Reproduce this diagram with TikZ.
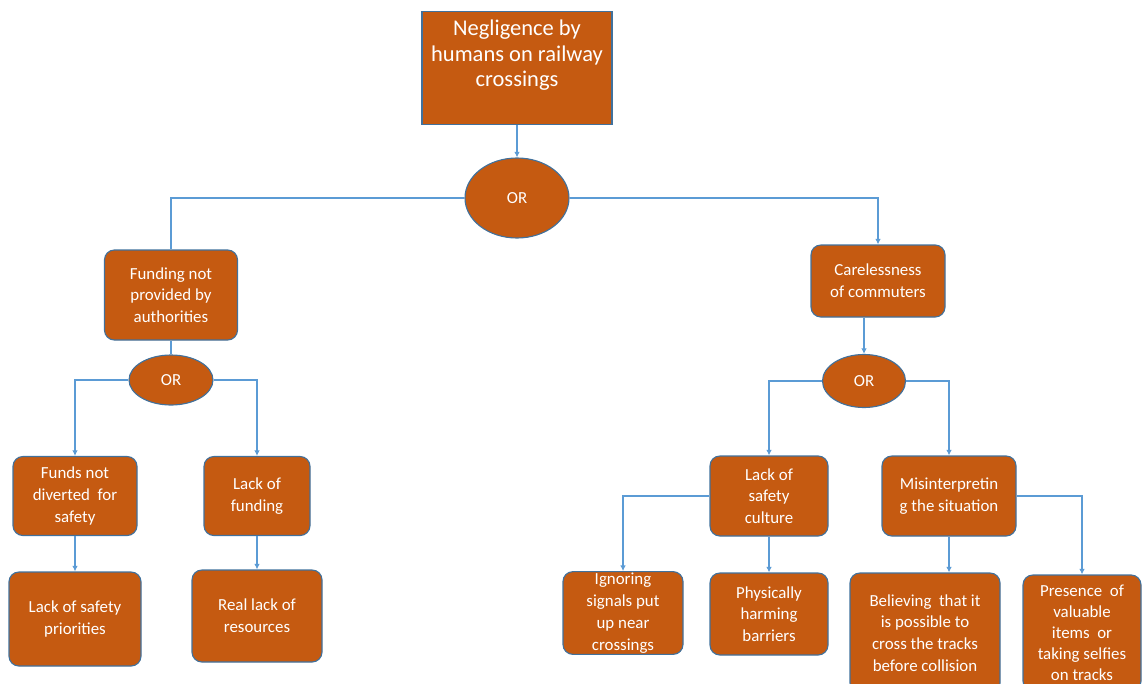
\documentclass[tikz,border=0pt]{standalone}
\usepackage{fontspec}
\setmainfont{Carlito}
\usetikzlibrary{shapes.geometric}
\usetikzlibrary{arrows.meta}
\definecolor{rust}{RGB}{197,90,17}
\definecolor{slateedge}{RGB}{65,113,156}
\definecolor{wire}{RGB}{91,155,213}

\begin{document}
\begin{tikzpicture}[
    x=0.025cm, y=-0.025cm,
    >={Latex[length=4pt,width=4pt]},
    % node styles
    box/.style = {
      draw=slateedge,
      line width=0.8pt,
      fill=rust,
      rounded corners=7pt,
      align=center,
      inner sep=1pt,
      font=\fontsize{12}{15.5}\selectfont,
      text=white
    },
    topbox/.style = {
      box,
      rounded corners=0pt,
      font=\fontsize{16}{18}\selectfont
    },
    gate/.style = {
      ellipse,
      draw=slateedge,
      line width=0.8pt,
      fill=rust,
      inner sep=0pt,
      font=\fontsize{12}{14}\selectfont,
      text=white
    },
    dims/.style 2 args = {minimum width=#1*0.025cm, minimum height=#2*0.025cm},
    % arrow styles
    arr/.style = {->, line width=1pt, draw=wire},
    link/.style = {-, line width=1pt, draw=wire}
  ]
  \useasboundingbox (0,0) rectangle (1142,683);

  % --- Nodes
  \node[topbox, dims={190}{113}] (neglect) at (517,68) {Negligence by\\humans on railway\\crossings\\[3pt]\mbox{}};
  \node[gate, dims={104}{80}] (orTop) at (517,198) {OR};

  \node[box, dims={133}{90}] (funding) at (171,295) {Funding not\\provided by\\authorities};
  \node[gate, dims={84}{50}] (orLeft) at (171,380) {OR};
  \node[box, dims={124}{79}] (funds) at (75,496) {Funds not\\diverted\ \ for\\safety};
  \node[box, dims={106}{79}] (lackfund) at (257,496) {Lack of\\funding};
  \node[box, dims={132}{94}] (priority) at (75,619) {Lack of safety\\priorities};
  \node[box, dims={130}{92}] (resources) at (257,616) {Real lack of\\resources};

  \node[box, dims={134}{72}] (careless) at (878,281) {Carelessness\\of commuters};
  \node[gate, dims={83}{53}] (orRight) at (864,381) {OR};
  \node[box, dims={118}{80}] (culture) at (769,496) {Lack of\\safety\\culture};
  \node[box, dims={134}{80}] (misread) at (949,496) {Misinterpretin\\g the situation};
  \node[box, dims={120}{80}] (ignoring) at (623,613) {Ignoring\\signals put\\up near\\crossings};
  \node[box, dims={118}{82}] (barriers) at (769,614) {Physically\\harming\\barriers};
  \node[box, dims={150}{120}] (believing) at (925,633) {Believing\ \ that it\\is possible to\\cross the tracks\\before collision};
  \node[box, dims={118}{116}, font=\fontsize{12}{15}\selectfont] (selfies) at (1082,633) {Presence\ \ of\\valuable\\items\ \ or\\taking selfies\\on tracks};

  % --- Arrows
  \draw[arr] (neglect) -- (orTop);
  \draw[link] (orTop.west) -| (funding.north);
  \draw[arr] (orTop.east) -| (careless.north);

  \draw[link] (funding) -- (orLeft);
  \draw[arr] (orLeft.west) -| (funds.north);
  \draw[arr] (orLeft.east) -| (lackfund.north);
  \draw[arr] (funds) -- (priority);
  \draw[arr] (lackfund) -- (resources);

  \draw[arr] (careless.south -| orRight) -- (orRight);
  \draw[arr] (orRight.west) -| (culture.north);
  \draw[arr] (orRight.east) -| (misread.north);
  \draw[arr] (culture.west) -| (ignoring.north);
  \draw[arr] (culture) -- (barriers);
  \draw[arr] (misread) -- (misread |- believing.north);
  \draw[arr] (misread.east) -| (selfies.north);
\end{tikzpicture}
\end{document}
